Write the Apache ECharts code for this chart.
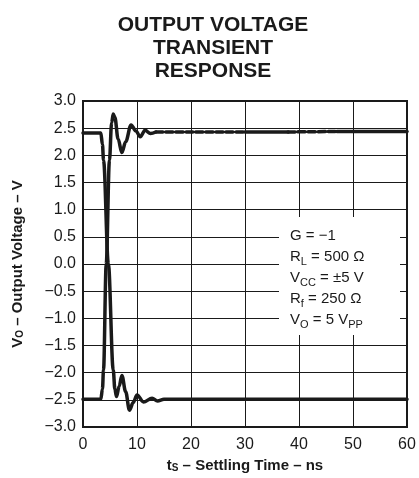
<!DOCTYPE html>
<html>
<head>
<meta charset="utf-8">
<script src="https://cdn.jsdelivr.net/npm/echarts@6/dist/echarts.min.js"></script>
<style>
  html, body { margin: 0; padding: 0; background: #fff; }
  #chart { width: 419px; height: 478px; }
</style>
</head>
<body>
<div id="chart"></div>
<script>
// time axis (ns) and voltage axis (V)
const xTicks = [0, 10, 20, 30, 40, 50, 60];
const yTicks = [-3, -2.5, -2, -1.5, -1, -0.5, 0, 0.5, 1, 1.5, 2, 2.5, 3];

// rising output (−2.5 V → +2.45 V)
const riseT = [0, 3.3, 3.6, 3.8, 4.3, 4.9, 5.3, 5.6, 5.9, 6.5, 7.2, 7.9, 8.9, 9.8, 10.6, 11.5, 12.5, 13.5, 20, 30, 38, 47, 60];
const riseV = [-2.49, -2.49, -2.3, -1.95, 0, 1.91, 2.6, 2.76, 2.7, 2.3, 2.05, 2.25, 2.56, 2.45, 2.34, 2.46, 2.40, 2.43, 2.43, 2.43, 2.43, 2.44, 2.44];

// falling output (+2.45 V → −2.5 V)
const fallT = [0, 3.3, 3.6, 3.8, 4.7, 5.6, 5.9, 6.2, 6.7, 7.2, 7.9, 8.6, 9.3, 10.0, 11.2, 12.8, 13.8, 15, 60];
const fallV = [2.41, 2.41, 2.2, 1.91, 0, -1.95, -2.3, -2.44, -2.25, -2.05, -2.35, -2.69, -2.55, -2.41, -2.54, -2.47, -2.52, -2.49, -2.49];

// stretches where the settled trace shows ringing (drawn dashed)
const dashSpans = [[13.5, 30], [38, 47]];

const minus = (s) => s.replace('-', '\u2212');

function pairs(ts, vs, lo, hi) {
  const out = [];
  ts.forEach((t, i) => { if (t >= lo && t <= hi) out.push([t, vs[i]]); });
  return out;
}

function lineSeries(data, width, type) {
  return {
    type: 'line',
    data: data,
    showSymbol: false,
    smooth: 0.35,
    smoothMonotone: 'x',
    silent: true,
    lineStyle: { color: '#1a1a1a', width: width, type: type || 'solid', cap: 'round', join: 'round' },
    z: 3
  };
}

const series = [];
// thin base for the whole rising trace
series.push(lineSeries(pairs(riseT, riseV, 0, 60), 1.5));
// thick solid / dashed parts
let last = 0;
dashSpans.forEach(([a, b]) => {
  series.push(lineSeries(pairs(riseT, riseV, last, a), 3.5));
  series.push(lineSeries(pairs(riseT, riseV, a, b), 3.5, [7, 3]));
  last = b;
});
series.push(lineSeries(pairs(riseT, riseV, last, 60), 3.5));
series.push(lineSeries(pairs(fallT, fallV, 0, 60), 3.5));

const chart = echarts.init(document.getElementById('chart'));

const font = 'Liberation Sans, Arial, sans-serif';
const subStyle = (size, bold) => ({
  fontSize: size, fontFamily: font, fontWeight: bold ? 'bold' : 'normal',
  color: '#1a1a1a', verticalAlign: 'bottom', lineHeight: size
});

const noteLines = [
  'G = \u22121',
  'R{sub|L} = 500 \u03A9',
  'V{sub|CC} = \u00B15 V',
  'R{sub|f} = 250 \u03A9',
  'V{sub|O} = 5 V{sub|PP}'
];

chart.setOption({
  animation: false,
  backgroundColor: '#fff',
  title: {
    text: 'OUTPUT VOLTAGE\nTRANSIENT\nRESPONSE',
    left: 208,
    textAlign: 'center',
    top: 9,
    textStyle: { fontFamily: font, fontSize: 21, fontWeight: 'bold', lineHeight: 23, color: '#1a1a1a' }
  },
  grid: {
    left: 83, right: 12, top: 101, bottom: 51,
    show: true, borderColor: '#1a1a1a', borderWidth: 2
  },
  xAxis: {
    type: 'value',
    min: xTicks[0], max: xTicks[xTicks.length - 1], interval: 10,
    axisLine: { show: false },
    axisTick: { show: false },
    splitLine: { show: true, lineStyle: { color: '#1a1a1a', width: 1 } },
    axisLabel: { margin: 10, fontSize: 16, fontFamily: font, color: '#1a1a1a' },
    name: 't{sub|S} \u2013 Settling Time \u2013 ns',
    nameLocation: 'middle',
    nameGap: 29,
    nameTextStyle: {
      fontSize: 15, fontWeight: 'bold', fontFamily: font, color: '#1a1a1a',
      rich: { sub: subStyle(10, true) }
    }
  },
  yAxis: {
    type: 'value',
    min: yTicks[0], max: yTicks[yTicks.length - 1], interval: 0.5,
    axisLine: { show: false },
    axisTick: { show: false },
    splitLine: { show: true, lineStyle: { color: '#1a1a1a', width: 1 } },
    axisLabel: {
      margin: 7, fontSize: 16, fontFamily: font, color: '#1a1a1a',
      formatter: (v) => minus(v.toFixed(1))
    },
    name: 'V{sub|O} \u2013 Output Voltage \u2013 V',
    nameLocation: 'middle',
    nameGap: 58,
    nameTextStyle: {
      fontSize: 15, fontWeight: 'bold', fontFamily: font, color: '#1a1a1a',
      rich: { sub: subStyle(10, true) }
    }
  },
  graphic: [
    {
      type: 'rect', z: 1,
      shape: { x: 279, y: 217, width: 121, height: 118 },
      style: { fill: '#fff' }
    },
    {
      type: 'text', z: 2, left: 290, top: 225,
      style: {
        text: noteLines.join('\n'),
        fontSize: 15, fontFamily: font, fill: '#1a1a1a', lineHeight: 21,
        rich: { sub: subStyle(11, false) }
      }
    }
  ],
  series: series
});
</script>
</body>
</html>
